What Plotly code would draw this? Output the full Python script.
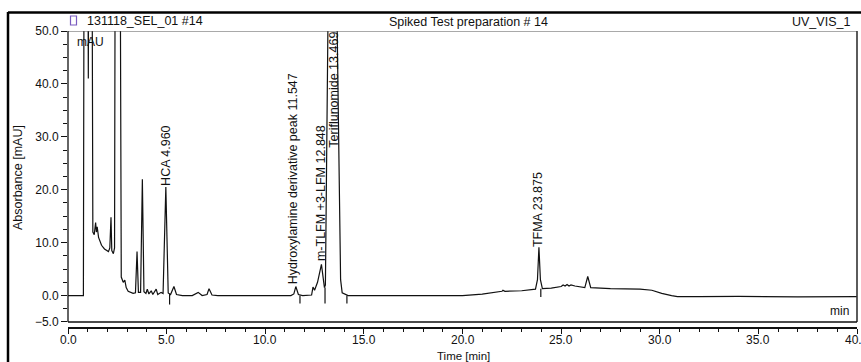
import plotly.graph_objects as go

# ---- data ----
time_min = [0.0, 0.78, 0.84, 0.96, 1.03, 1.08, 1.18, 1.26, 1.33, 1.40, 1.44, 1.48, 1.55, 1.70, 1.85,
            2.05, 2.12, 2.18, 2.22, 2.30, 2.36, 2.42, 2.60, 2.70, 2.80, 2.88, 2.95, 3.05, 3.30, 3.42,
            3.50, 3.57, 3.68, 3.77, 3.85, 3.95, 4.02, 4.10, 4.22, 4.30, 4.47, 4.55, 4.72, 4.82, 4.96,
            5.08, 5.20, 5.37, 5.50, 5.80, 6.30, 6.60, 6.80, 7.05, 7.15, 7.30, 7.60, 11.30, 11.45,
            11.55, 11.68, 11.90, 12.35, 12.42, 12.50, 12.65, 12.848, 13.00, 13.05, 13.12, 13.18, 13.30,
            13.469, 13.55, 13.64, 13.75, 13.82, 13.90, 14.20, 20.00, 21.00, 22.00, 22.05, 22.15, 23.00,
            23.70, 23.80, 23.875, 23.95, 24.05, 24.50, 25.00, 25.10, 25.20, 25.30, 25.40, 25.50, 25.70,
            26.20, 26.35, 26.50, 27.50, 29.00, 29.60, 30.10, 30.60, 30.90, 32.00, 34.00, 37.00, 40.00]
absorbance = [0.0, 0.0, 120, 120, 41, 120, 120, 12.0, 11.5, 13.8, 12.0, 13.0, 11.0, 9.5, 8.8,
              8.3, 9.0, 14.8, 8.5, 7.9, 9.0, 120, 120, 3.5, 2.5, 2.9, 1.5, 0.8, 0.4, 0.5,
              8.3, 0.6, 0.6, 22.0, 0.7, 0.4, 1.2, 0.3, 0.9, 0.2, 1.2, 0.2, 0.6, 0.4, 20.5,
              0.5, 0.2, 1.7, 0.2, 0.0, 0.0, 0.6, 0.0, 0.2, 1.3, 0.1, 0.0, 0.0, 0.3,
              1.7, 0.2, 0.0, 0.1, 1.6, 1.0, 2.5, 5.9, 1.5, 2.0, 25, 52, 120,
              160, 120, 52, 15, 3.0, 0.5, 0.0, 0.0, 0.25, 0.8, 1.0, 0.8, 0.9,
              1.2, 3.0, 9.1, 3.0, 1.3, 1.4, 1.7, 2.0, 1.8, 2.1, 1.8, 2.0, 1.8,
              1.5, 3.6, 1.5, 1.3, 1.2, 1.0, 0.4, 0.0, -0.2, -0.2, -0.15, -0.25, -0.2]

# peak delimiter marks (time, top, bottom)
delim_t = [5.15, 11.76, 13.03, 14.14, 23.97]
delim_top = [0.3, 0.0, 1.5, 0.0, 1.3]
delim_bot = [-1.7, -1.5, -1.5, -1.5, -0.3]

# peak labels
peak_names = ["HCA 4.960", "Hydroxylamine derivative peak 11.547", "m-TLFM +3-LFM 12.848",
              "Teriflunomide 13.469", "TFMA 23.875"]
peak_x = [4.96, 11.42, 12.82, 13.47, 23.86]
peak_y = [20.6, 1.9, 6.3, 50.0, 9.0]
peak_anchor = ["bottom", "bottom", "bottom", "top", "bottom"]

y_ticks = [-5, 0, 10, 20, 30, 40, 50]
x_ticks = [0, 5, 10, 15, 20, 25, 30, 35, 40]
x_tick_labels = ["0.0", "5.0", "10.0", "15.0", "20.0", "25.0", "30.0", "35.0", "40.0"]

FONT = "Liberation Sans, Arial, sans-serif"

dx, dy = [], []
for t, a, b in zip(delim_t, delim_top, delim_bot):
    dx += [t, t, None]
    dy += [a, b, None]

fig = go.Figure()
fig.add_trace(go.Scatter(x=time_min, y=absorbance, mode="lines",
                         line=dict(color="#111111", width=1.2), hoverinfo="skip"))
fig.add_trace(go.Scatter(x=dx, y=dy, mode="lines",
                         line=dict(color="#111111", width=1.2), hoverinfo="skip"))

ann = []
for n, x, y, anc in zip(peak_names, peak_x, peak_y, peak_anchor):
    ann.append(dict(x=x, y=y, xref="x", yref="y", text=n, textangle=-90, showarrow=False,
                    xanchor="center", yanchor=anc, borderpad=0,
                    font=dict(family=FONT, size=12.5, color="#111111")))

def px2x(p):
    return (p - 68) / 789.0

def px2y(p):
    return (327 - p) / 296.0

# x tick labels, placed on the x axis scale
for v, lab in zip(x_ticks, x_tick_labels):
    ann.append(dict(x=v, y=px2y(339.5), xref="x", yref="paper", text=lab, showarrow=False,
                    xanchor="center", yanchor="middle", borderpad=0,
                    font=dict(family=FONT, size=12, color="#111")))

ann += [
    dict(x=px2x(85), y=px2y(21), xref="paper", yref="paper", text="131118_SEL_01 #14",
         showarrow=False, xanchor="left", yanchor="middle", font=dict(family=FONT, size=12.5, color="#111")),
    dict(x=px2x(468.5), y=px2y(21.5), xref="paper", yref="paper", text="Spiked Test preparation # 14",
         showarrow=False, xanchor="center", yanchor="middle", font=dict(family=FONT, size=12.5, color="#111")),
    dict(x=px2x(852), y=px2y(21.5), xref="paper", yref="paper", text="UV_VIS_1",
         showarrow=False, xanchor="right", yanchor="middle", font=dict(family=FONT, size=12.5, color="#111")),
    dict(x=px2x(75), y=px2y(42.5), xref="paper", yref="paper", text="mAU",
         showarrow=False, xanchor="left", yanchor="middle", font=dict(family=FONT, size=12, color="#111")),
    dict(x=px2x(851), y=px2y(311), xref="paper", yref="paper", text="min",
         showarrow=False, xanchor="right", yanchor="middle", font=dict(family=FONT, size=12, color="#111")),
    dict(x=px2x(18), y=px2y(177), xref="paper", yref="paper", text="Absorbance [mAU]", textangle=-90,
         showarrow=False, xanchor="center", yanchor="middle", font=dict(family=FONT, size=12.5, color="#111")),
    dict(x=px2x(463), y=px2y(355.5), xref="paper", yref="paper", text="Time [min]",
         showarrow=False, xanchor="center", yanchor="middle", borderpad=0,
         font=dict(family=FONT, size=11.5, color="#111")),
]

shapes = [
    # plot frame
    dict(type="line", xref="paper", yref="y", x0=0, x1=1, y0=50, y1=50, line=dict(color="#555", width=1)),
    dict(type="line", xref="paper", yref="y", x0=1, x1=1, y0=-5, y1=50, line=dict(color="#333", width=1.6)),
    dict(type="line", xref="paper", yref="y", x0=0, x1=1, y0=-5, y1=-5, line=dict(color="#111", width=1.6)),
    dict(type="line", xref="paper", yref="y", x0=0, x1=0, y0=-5, y1=50, line=dict(color="#111", width=1.3)),
    # outer screenshot border
    dict(type="line", xref="paper", yref="paper", x0=px2x(8), x1=px2x(861), y0=px2y(12.5), y1=px2y(12.5),
         line=dict(color="#000", width=2.5)),
    dict(type="line", xref="paper", yref="paper", x0=px2x(8), x1=px2x(8), y0=px2y(12), y1=px2y(362),
         line=dict(color="#000", width=2.5)),
    # small icon
    dict(type="rect", xref="paper", yref="paper", x0=px2x(70.5), x1=px2x(76.5), y0=px2y(25), y1=px2y(16),
         line=dict(color="#7a5cc0", width=1.2)),
]

fig.update_layout(
    width=861, height=362,
    margin=dict(l=68, r=4, t=31, b=35),
    paper_bgcolor="white", plot_bgcolor="white",
    showlegend=False,
    annotations=ann, shapes=shapes,
    font=dict(family=FONT, size=12, color="#111"),
    xaxis=dict(range=[0, 40], tickmode="array", tickvals=x_ticks, showticklabels=False,
               showline=True, linecolor="#111", linewidth=1.6, ticks="outside", ticklen=5,
               tickcolor="#111", tickwidth=1.3, showgrid=False, zeroline=False,
               minor=dict(dtick=1, tick0=0, ticks="outside", ticklen=3, tickcolor="#111", tickwidth=1.2, showgrid=False)),
    yaxis=dict(range=[-5.947, 50], tickmode="array", tickvals=y_ticks, tickformat=".1f",
               showline=False, ticks="outside", ticklen=6, tickcolor="#111", tickwidth=1.3,
               showgrid=False, zeroline=False,
               minor=dict(dtick=2.5, tick0=0, ticks="outside", ticklen=4, tickcolor="#111", tickwidth=1.2, showgrid=False),
               tickfont=dict(family=FONT, size=12, color="#111")),
)

fig.write_html("out.html", config={"displayModeBar": False},
               post_script="document.body.style.margin='0';document.body.style.overflow='hidden';")
